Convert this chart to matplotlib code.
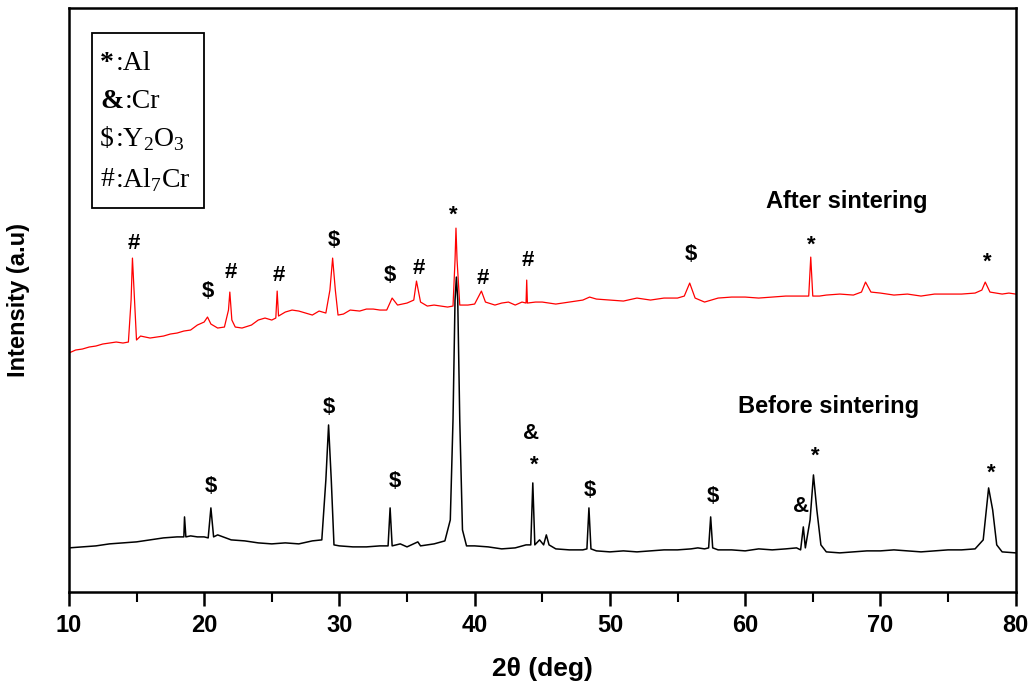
import matplotlib.pyplot as plt
from matplotlib.patches import Rectangle

plt.rcParams['font.family'] = ['Liberation Sans', 'DejaVu Sans']
plt.rcParams['mathtext.fontset'] = 'custom'
plt.rcParams['mathtext.rm'] = 'Liberation Serif'

# intensity in arbitrary units
after_x = [10.0, 10.5, 11.0, 11.5, 12.0, 12.5, 13.0, 13.5, 14.0, 14.4, 14.6, 14.7, 14.85, 15.0,
           15.3, 16.0, 16.5, 17.0, 17.5, 18.0, 18.5, 19.0, 19.5, 20.0, 20.25, 20.5, 21.0, 21.5,
           21.8, 21.9, 22.05, 22.3, 22.8, 23.5, 24.0, 24.5, 25.0, 25.3, 25.4, 25.5, 26.0, 26.5,
           27.0, 27.5, 28.0, 28.5, 29.0, 29.3, 29.5, 29.7, 29.9, 30.3, 30.8, 31.5, 32.0, 32.5,
           33.0, 33.5, 33.9, 34.3, 35.0, 35.5, 35.7, 36.0, 36.5, 37.0, 37.5, 38.0, 38.4, 38.55,
           38.62, 38.7, 38.9, 39.5, 40.0, 40.5, 40.8, 41.5, 42.0, 42.5, 43.0, 43.5, 43.8, 43.85,
           43.9, 44.5, 45.0, 46.0, 47.0, 48.0, 48.5, 49.0, 50.0, 51.0, 52.0, 53.0, 54.0, 55.0,
           55.5, 55.9, 56.3, 57.0, 58.0, 59.0, 60.0, 61.0, 62.0, 63.0, 64.0, 64.7, 64.85, 65.0,
           65.5, 66.0, 67.0, 68.0, 68.6, 68.9, 69.3, 70.0, 71.0, 72.0, 73.0, 74.0, 75.0, 76.0,
           77.0, 77.5, 77.75, 78.1, 79.0, 79.5, 80.0]
after_y = [239, 242, 243, 245, 246, 248, 249, 250, 249, 250, 292, 334, 292, 252,
           256, 254, 255, 256, 258, 259, 261, 262, 267, 270, 275, 268, 264, 265,
           282, 300, 272, 265, 264, 267, 272, 274, 272, 274, 301, 276, 280, 282,
           281, 279, 277, 281, 279, 302, 334, 302, 277, 278, 282, 281, 283, 283,
           282, 282, 294, 287, 289, 292, 311, 290, 286, 287, 286, 285, 286, 332,
           364, 332, 287, 287, 288, 301, 290, 287, 289, 290, 287, 290, 289, 312,
           289, 290, 290, 288, 290, 292, 295, 293, 292, 291, 294, 292, 294, 294,
           296, 309, 294, 290, 294, 295, 295, 294, 295, 296, 296, 296, 335, 296,
           296, 297, 298, 297, 300, 310, 300, 299, 297, 298, 296, 298, 298, 298,
           299, 302, 310, 300, 298, 299, 298]

before_x = [10.0, 11.0, 12.0, 13.0, 14.0, 15.0, 16.0, 17.0, 18.0, 18.5, 18.55, 18.65, 19.0,
            19.5, 20.0, 20.3, 20.5, 20.7, 21.0, 22.0, 23.0, 24.0, 25.0, 26.0, 27.0, 28.0,
            28.7, 29.0, 29.2, 29.4, 29.6, 30.0, 31.0, 32.0, 33.0, 33.6, 33.75, 33.9, 34.5,
            35.0, 35.8, 36.0, 37.0, 37.8, 38.2, 38.4, 38.55, 38.65, 38.75, 38.9, 39.1, 39.4,
            40.0, 41.0, 42.0, 43.0, 43.8, 44.15, 44.3, 44.45, 44.8, 45.1, 45.3, 45.5, 46.0,
            47.0, 48.0, 48.3, 48.45, 48.6, 49.0, 50.0, 51.0, 52.0, 53.0, 54.0, 55.0, 56.0,
            56.5, 57.0, 57.3, 57.45, 57.6, 58.0, 59.0, 60.0, 61.0, 62.0, 63.0, 63.8, 64.1,
            64.3, 64.45, 64.8, 65.05, 65.3, 65.6, 66.0, 67.0, 68.0, 69.0, 70.0, 71.0, 72.0,
            73.0, 74.0, 75.0, 76.0, 77.0, 77.6, 78.0, 78.3, 78.6, 79.0, 80.0]
before_y = [44, 45, 46, 48, 49, 50, 52, 54, 55, 55, 75, 55, 56,
            55, 55, 54, 84, 55, 57, 52, 51, 49, 48, 49, 48, 51,
            52, 112, 167, 112, 47, 46, 45, 45, 46, 46, 84, 46, 48,
            45, 50, 46, 48, 51, 72, 172, 292, 315, 292, 172, 62, 46,
            46, 45, 43, 44, 47, 47, 109, 47, 52, 47, 57, 47, 43,
            42, 42, 43, 84, 43, 41, 40, 41, 40, 41, 42, 42, 43,
            44, 43, 44, 75, 44, 42, 42, 41, 43, 42, 43, 44, 42,
            65, 44, 72, 117, 82, 47, 40, 39, 40, 41, 41, 42, 41,
            40, 41, 42, 42, 43, 52, 104, 82, 47, 40, 39]

after_labels = ['#', '$', '#', '#', '$', '$', '#', '*', '#', '#', '$', '*', '*']
after_lab_x = [14.8, 20.3, 21.95, 25.5, 29.6, 33.7, 35.9, 38.4, 40.6, 43.9, 56.0, 64.9, 77.9]
after_lab_y = [349, 301, 320, 317, 352, 317, 324, 377, 314, 332, 338, 347, 330]

before_labels = ['$', '$', '$', '&', '*', '$', '$', '&', '*', '*']
before_lab_x = [20.5, 29.2, 34.1, 44.2, 44.4, 48.5, 57.6, 64.1, 65.2, 78.2]
before_lab_y = [105, 184, 110, 158, 127, 101, 95, 85, 136, 119]

# phase key
key_sym = ['*', '&', '$', '#']
key_bold = [True, True, False, False]
key_txt = [':Al', ':Cr', r':Y$_\mathregular{2}$O$_\mathregular{3}$', r':Al$_\mathregular{7}$Cr']

fig = plt.figure(figsize=(10.28, 6.89), dpi=100)
ax = fig.add_axes([0.067, 0.141, 0.921, 0.847])

ax.plot(after_x, after_y, color='red', linewidth=0.9)
ax.plot(before_x, before_y, color='black', linewidth=1.1)

for s, x, y in zip(after_labels, after_lab_x, after_lab_y):
    ax.text(x, y, s, fontsize=16, fontweight='bold', ha='center', va='center', parse_math=False)
for s, x, y in zip(before_labels, before_lab_x, before_lab_y):
    ax.text(x, y, s, fontsize=16, fontweight='bold', ha='center', va='center', parse_math=False)

ax.text(67.5, 391, 'After sintering', fontsize=17, fontweight='bold', ha='center', va='center')
ax.text(66.2, 185, 'Before sintering', fontsize=17, fontweight='bold', ha='center', va='center')

ax.set_xlim(10, 80)
ax.set_ylim(0, 584)
ax.set_xticks([10, 20, 30, 40, 50, 60, 70, 80])
ax.set_xticks([15, 25, 35, 45, 55, 65, 75], minor=True)
ax.set_yticks([])
ax.tick_params(axis='x', which='major', direction='out', length=10, width=1.8, pad=6)
ax.tick_params(axis='x', which='minor', direction='out', length=7, width=1.5)
for lab in ax.get_xticklabels():
    lab.set_fontweight('bold')
    lab.set_fontsize(17)
for sp in ax.spines.values():
    sp.set_linewidth(1.8)

ax.set_xlabel('2θ (deg)', fontsize=19, fontweight='bold', labelpad=14)
ax.set_ylabel('Intensity (a.u)', fontsize=17, fontweight='bold', labelpad=28)

# legend box with phases
fig.patches.append(Rectangle((0.0895, 0.698), 0.109, 0.254, transform=fig.transFigure,
                             fill=False, edgecolor='black', linewidth=1.3))
leg_y = [63, 102, 140, 180]
for s, b, t, yp in zip(key_sym, key_bold, key_txt, leg_y):
    fy = 1 - yp / 689
    st = ax.text(0.0975, fy, s, fontsize=20, family='Liberation Serif', transform=fig.transFigure,
                 fontweight='bold' if b else 'normal', va='center', parse_math=False)
    ax.annotate(t, xy=(1.0, 0.5), xycoords=st, xytext=(1, 0), textcoords='offset points',
                fontsize=20, family='Liberation Serif', va='center', ha='left',
                annotation_clip=False)

fig.savefig('out.png', dpi=100)
